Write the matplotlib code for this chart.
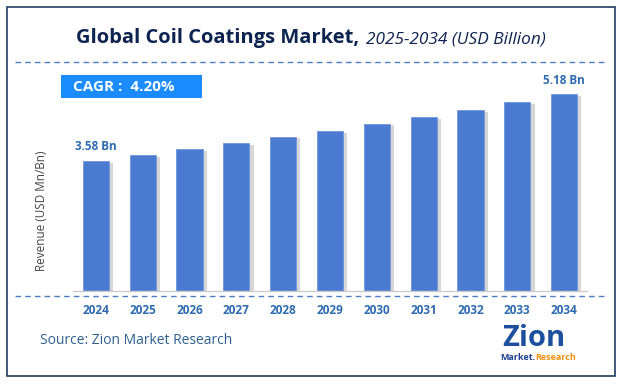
import matplotlib
matplotlib.use("Agg")
import matplotlib.pyplot as plt
import matplotlib.patheffects as pe
from matplotlib.lines import Line2D
from matplotlib.patches import Rectangle

plt.rcParams['font.family'] = ['Open Sans', 'DejaVu Sans']

# data
years = ['2024', '2025', '2026', '2027', '2028', '2029', '2030', '2031', '2032', '2033', '2034']
revenue = [3.58, 3.73, 3.87, 4.01, 4.16, 4.30, 4.47, 4.63, 4.80, 4.99, 5.18]
cagr = '4.20%'

W, H = 621, 385
fig = plt.figure(figsize=(W / 100, H / 100), dpi=100)
fig.patch.set_facecolor('white')

def fx(px):
    return px / W

def fy(py):
    return 1 - py / H

# outer border
fig.add_artist(Rectangle((fx(7), fy(376)), fx(615) - fx(7), fy(7) - fy(376),
                         transform=fig.transFigure, fill=False,
                         edgecolor='#1f3d63', linewidth=1.2))

# title
fig.text(fx(76), fy(38), 'Global Coil Coatings Market,', fontsize=14.5, fontweight='bold',
         color='#0d2350', ha='left', va='center')
fig.text(fx(366), fy(39), '2025-2034 (USD Billion)', fontsize=12.4, style='italic',
         color='#0d2350', ha='left', va='center')

# dashed separators
dash_col = '#4a7cc8'
fig.add_artist(Line2D([fx(15), fx(607)], [fy(62), fy(62)], transform=fig.transFigure,
                      color=dash_col, linestyle=(0, (4, 3)), linewidth=1))
fig.add_artist(Line2D([fx(15), fx(605)], [fy(296), fy(296)], transform=fig.transFigure,
                      color=dash_col, linestyle=(0, (4, 3)), linewidth=1))

# CAGR box
fig.add_artist(Rectangle((fx(61), fy(98)), fx(202) - fx(61), fy(75) - fy(98),
                         transform=fig.transFigure, facecolor='#1a8cff', edgecolor='none'))
fig.text(fx(73), fy(87), 'CAGR :  ' + cagr, fontsize=11, fontweight='bold',
         color='white', ha='left', va='center')

# bar axes
ax = fig.add_axes([fx(73), fy(291), fx(587) - fx(73), fy(80) - fy(291)])
x = list(range(len(years)))
bars = ax.bar(x, revenue, width=0.56, bottom=0, color='#4b7bd1', edgecolor='#6f95dc',
              linewidth=0.6, zorder=2)
for b in bars:
    b.set_path_effects([pe.SimplePatchShadow(offset=(3, -1), shadow_rgbFace='#999999', alpha=0.4),
                        pe.Normal()])
ax.set_xlim(-0.49, len(years) - 0.51)
ax.set_ylim(0.5, 5.517)
ax.set_facecolor('none')
for s in ['top', 'right', 'left']:
    ax.spines[s].set_visible(False)
ax.spines['bottom'].set_color('#cccccc')
ax.spines['bottom'].set_linewidth(1)
ax.set_yticks([])
ax.set_xticks(x)
ax.set_xticklabels(years, fontsize=8.5, fontweight='bold', color='#2e6bb0')
ax.tick_params(axis='x', length=0, pad=9)
ax.set_ylabel('Revenue (USD Mn/Bn)', fontsize=8.5, color='#444444')
ax.yaxis.set_label_coords(-0.049, 0.38)

# end labels
ax.annotate(f'{revenue[0]:.2f} Bn', (x[0], revenue[0]), xytext=(0, 6), textcoords='offset points',
            ha='center', va='bottom', fontsize=8.5, fontweight='bold', color='#2e6bb0')
ax.annotate(f'{revenue[-1]:.2f} Bn', (x[-1], revenue[-1]), xytext=(0, 5), textcoords='offset points',
            ha='center', va='bottom', fontsize=8.5, fontweight='bold', color='#2e6bb0')

# source and logo
fig.text(fx(40), fy(341), 'Source: Zion Market Research', fontsize=10, color='#2f5f8f',
         ha='left', va='center')
fig.text(fx(534), fy(338), 'Zion', fontsize=21, fontweight='bold', color='#1d4f9f',
         ha='center', va='center')
fig.text(fx(535), fy(358), 'Market.', fontsize=6.5, fontweight='bold', color='#1d3f8f',
         ha='right', va='center')
fig.text(fx(535), fy(358), 'Research', fontsize=6.5, fontweight='bold', color='#f29111',
         ha='left', va='center')

fig.savefig('out.png', dpi=100)
